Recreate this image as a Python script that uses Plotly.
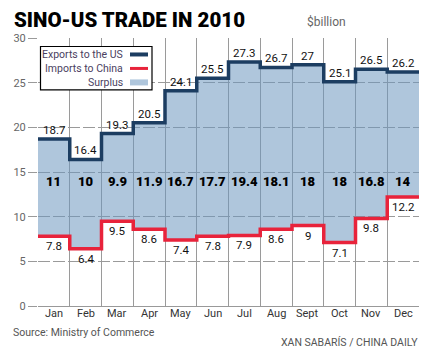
import numpy as np
import plotly.graph_objects as go

months = ["Jan", "Feb", "Mar", "Apr", "May", "Jun", "Jul", "Aug", "Sept", "Oct", "Nov", "Dec"]
exports = [18.7, 16.4, 19.3, 20.5, 24.1, 25.5, 27.3, 26.7, 27, 25.1, 26.5, 26.2]
imports = [7.8, 6.4, 9.5, 8.6, 7.4, 7.8, 7.9, 8.6, 9, 7.1, 9.8, 12.2]
surplus = [11, 10, 9.9, 11.9, 16.7, 17.7, 19.4, 18.1, 18, 18, 16.8, 14]
y_ticks = [0, 5, 10, 15, 20, 25, 30]

W, H = 429, 349
L, R, T, B = 38, 10, 37.5, 43
NAVY = "#1c3d61"
RED = "#e8233b"
FILL = "rgba(110,151,191,0.55)"
FONT = "Roboto"

idx = np.arange(len(months))
edges = np.append(idx, len(months)) - 0.5
exp_step = exports + [exports[-1]]
imp_step = imports + [imports[-1]]


def px(x):
    return (x - L) / (W - L - R)


def py(y):
    return (H - B - y) / (H - T - B)


fig = go.Figure()
fig.add_trace(go.Scatter(x=edges, y=imp_step, mode="lines", line_shape="hv",
                         line=dict(width=0, color=RED), hoverinfo="skip", showlegend=False))
fig.add_trace(go.Scatter(x=edges, y=exp_step, mode="lines", line_shape="hv",
                         line=dict(width=3.5, color=NAVY), fill="tonexty", fillcolor=FILL,
                         showlegend=False))
fig.add_trace(go.Scatter(x=edges, y=imp_step, mode="lines", line_shape="hv",
                         line=dict(width=3.5, color=RED), showlegend=False))

ann = []
for i in idx:
    ann.append(dict(x=i, y=exports[i], text=str(exports[i]), showarrow=False, yshift=9,
                    font=dict(family=FONT, size=11.5, color="#111")))
    ann.append(dict(x=i, y=imports[i], text=str(imports[i]), showarrow=False, yshift=-10,
                    font=dict(family=FONT, size=11.5, color="#111")))
    ann.append(dict(x=i, y=13.9, text=str(surplus[i]), showarrow=False,
                    font=dict(family=FONT, size=13, color="#000", weight=900)))
    # month names just under the baseline
    ann.append(dict(x=i, yref="paper", y=py(313.5), yanchor="middle", text=months[i], showarrow=False,
                    font=dict(family=FONT, size=11, color="#333")))

# title and notes
ann += [
    dict(xref="paper", yref="paper", x=px(12), y=py(19), xanchor="left", yanchor="middle",
         text="SINO-US TRADE IN 2010", showarrow=False,
         font=dict(family=FONT, size=20.5, color="#000", weight=900)),
    dict(xref="paper", yref="paper", x=px(305), y=py(21), xanchor="left", yanchor="middle",
         text="$billion", showarrow=False, font=dict(family=FONT, size=12, color="#666")),
    dict(xref="paper", yref="paper", x=px(11), y=py(333), xanchor="left", yanchor="middle",
         text="Source: Ministry of Commerce", showarrow=False,
         font=dict(family=FONT, size=10.5, color="#555")),
    dict(xref="paper", yref="paper", x=px(420), y=py(343), xanchor="right", yanchor="middle",
         text="XAN SABARÍS / CHINA DAILY", showarrow=False,
         font=dict(family=FONT, size=10.5, color="#555")),
]

# legend box
shapes = [dict(type="rect", xref="paper", yref="paper", x0=px(40.5), x1=px(152), y0=py(46), y1=py(89.5),
               fillcolor="white", line=dict(color="black", width=1.2), layer="above")]
legend_items = [("Exports to the US", 54, NAVY, 4), ("Imports to China", 68, RED, 3), ("Surplus", 82, "#afc6dc", 6)]
for name, yy, col, wdt in legend_items:
    shapes.append(dict(type="line", xref="paper", yref="paper", x0=px(130), x1=px(148), y0=py(yy), y1=py(yy),
                       line=dict(color=col, width=wdt), layer="above"))
    ann.append(dict(xref="paper", yref="paper", x=px(125), y=py(yy), xanchor="right", yanchor="middle",
                    text=name, showarrow=False, font=dict(family=FONT, size=10.5, color="#4b3f5f")))

fig.update_layout(
    width=W, height=H, margin=dict(l=L, r=R, t=T, b=B),
    paper_bgcolor="white", plot_bgcolor="white",
    annotations=ann, shapes=shapes, showlegend=False,
    xaxis=dict(range=[-0.5, len(months) - 0.5], tickvals=idx, showticklabels=False, showgrid=False,
               ticks="", showline=True, linecolor="#999", linewidth=1, zeroline=False,
               minor=dict(tickvals=edges, showgrid=True, gridcolor="#9a9a9a", gridwidth=1, ticks="")),
    yaxis=dict(range=[0, 30], tickvals=y_ticks, showgrid=True, gridcolor="#9a9a9a", gridwidth=1,
               griddash="12px,3px", ticks="outside", ticklen=9, tickcolor="#9a9a9a",
               tickfont=dict(family=FONT, size=11, color="#666"), zeroline=False, showline=False),
)

fig.write_html("out.html")
